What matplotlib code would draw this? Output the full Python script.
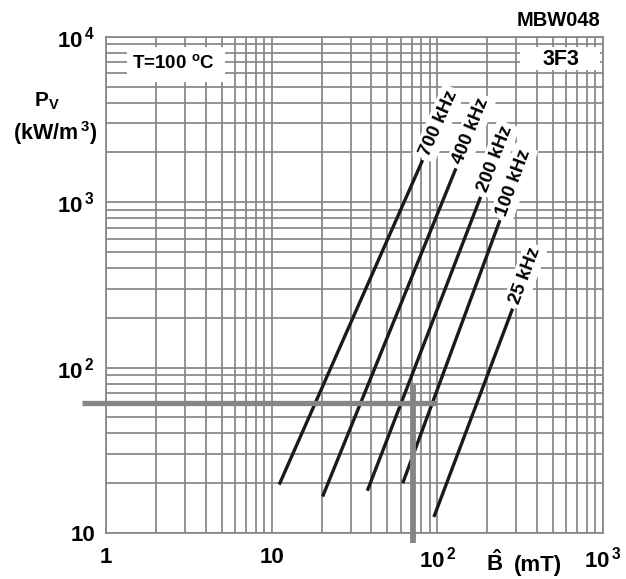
"""3F3 ferrite: specific power loss vs peak flux density at 100 C (MBW048)"""

import numpy as np
import matplotlib
matplotlib.use('Agg')
import matplotlib.pyplot as plt
from matplotlib.patches import Rectangle
from matplotlib.ticker import NullFormatter
from matplotlib.textpath import TextPath
from matplotlib.font_manager import FontProperties

plt.rcParams['font.family'] = ['Liberation Sans', 'DejaVu Sans']
plt.rcParams['font.weight'] = 'bold'
plt.rcParams['mathtext.fontset'] = 'custom'
plt.rcParams['mathtext.rm'] = 'Liberation Sans:bold'
plt.rcParams['mathtext.bf'] = 'Liberation Sans:bold'

# curves: straight lines on log-log, start / end points read from the sheet
freq_labels = ['700 kHz', '400 kHz', '200 kHz', '100 kHz', '25 kHz']
b_start = [11.1, 20.3, 37.8, 61.8, 95.3]
b_end = [81.5, 129.5, 182.5, 238.7, 284.6]
p_start = [19.6, 16.6, 18.0, 20.0, 12.5]
p_end = [1795, 1600, 1076, 778, 227]

# grey reading guides
guide_h_b = [0.72, 100]
guide_h_p = [61, 61]
guide_v_b = [71.6, 71.6]
guide_v_p = [8.65, 78]

x_ticks = [1, 10, 100, 1000]
x_ticklabels = ['1', '10', r'$\mathbf{10}^{\,\mathbf{2}}$', r'$\mathbf{10}^{\,\mathbf{3}}$']
y_ticks = [10, 100, 1000, 10000]
y_ticklabels = ['10', r'$\mathbf{10}^{\,\mathbf{2}}$', r'$\mathbf{10}^{\,\mathbf{3}}$', r'$\mathbf{10}^{\,\mathbf{4}}$']

grid_col = '#878787'
W, H = 626, 579
AW, AH = 497, 496.3   # axes size in pixels

fig = plt.figure(figsize=(W / 100, H / 100), dpi=100)
ax = fig.add_axes([106 / W, 1 - 533 / H, AW / W, AH / H])
ax.set_xscale('log')
ax.set_yscale('log')
ax.set_xlim(1, 1000)
ax.set_ylim(10, 10000)

ax.grid(which='both', color=grid_col, lw=1.25)
ax.set_axisbelow(True)
for s in ax.spines.values():
    s.set_color(grid_col)
    s.set_linewidth(1.25)

ax.set_xticks(x_ticks)
ax.set_xticklabels(x_ticklabels)
ax.set_yticks(y_ticks)
ax.set_yticklabels(y_ticklabels)
ax.xaxis.set_minor_formatter(NullFormatter())
ax.yaxis.set_minor_formatter(NullFormatter())
ax.tick_params(which='both', length=0, labelsize=16)
ax.tick_params(axis='x', pad=10)
ax.tick_params(axis='y', pad=8)

# curves and their labels
lab_size = 13.5
fp = FontProperties(family='Liberation Sans', weight='bold')
for lab, b0, b1, p0, p1 in zip(freq_labels, b_start, b_end, p_start, p_end):
    ax.plot([b0, b1], [p0, p1], color='#1a1a1a', lw=2.4, solid_capstyle='butt', zorder=3)
    d0 = ax.transData.transform((b0, p0))
    d1 = ax.transData.transform((b1, p1))
    ang = np.arctan2(d1[1] - d0[1], d1[0] - d0[0])
    width_px = TextPath((0, 0), lab, size=lab_size, prop=fp).get_extents().width * 100 / 72
    off = 0.5 * width_px + 6
    ax.annotate(lab, xy=(b1, p1), xytext=(off * np.cos(ang), off * np.sin(ang)),
                textcoords='offset pixels', rotation=np.degrees(ang),
                rotation_mode='anchor', ha='center', va='center',
                fontsize=lab_size, fontweight='bold', zorder=4,
                bbox=dict(fc='white', ec='none', pad=2.5))

ax.plot(guide_h_b, guide_h_p, color='#858585', lw=3.8, solid_capstyle='butt',
        clip_on=False, zorder=5)
ax.plot(guide_v_b, guide_v_p, color='#858585', lw=4.2, solid_capstyle='butt',
        clip_on=False, zorder=5)

# boxed captions inside the grid
ax.add_patch(Rectangle((21 / AW, 1 - 45.3 / AH), 98 / AW, 35 / AH,
                       transform=ax.transAxes, fc='white', ec='none', zorder=2))
ax.text(0.135, 0.945, r'T=100 $^{\mathbf{o}}$C', transform=ax.transAxes,
        ha='center', va='center', fontsize=13.5, zorder=3)
ax.add_patch(Rectangle((414 / AW, 1 - 33.3 / AH), 80 / AW, 23 / AH,
                       transform=ax.transAxes, fc='white', ec='none', zorder=2))
ax.text(0.916, 0.955, '3F3', transform=ax.transAxes,
        ha='center', va='center', fontsize=15.5, zorder=3)

fig.text(600 / W, 1 - 21 / H, 'MBW048', ha='right', va='center', fontsize=14.5)

# axis titles
fig.text(47 / W, 1 - 101 / H, r'$\mathbf{P}_{\mathbf{V}}$', ha='center', va='center', fontsize=15)
fig.text(55 / W, 1 - 133 / H, r'(kW/m$^{\,\mathbf{3}}$)', ha='center', va='center', fontsize=15.5)
fig.text(494.5 / W, 1 - 571 / H, r'$\hat{\mathbf{B}}$', ha='center', va='baseline', fontsize=16)
fig.text(514 / W, 1 - 571 / H, '(mT)', ha='left', va='baseline', fontsize=16)

fig.savefig('out.png', dpi=100)
